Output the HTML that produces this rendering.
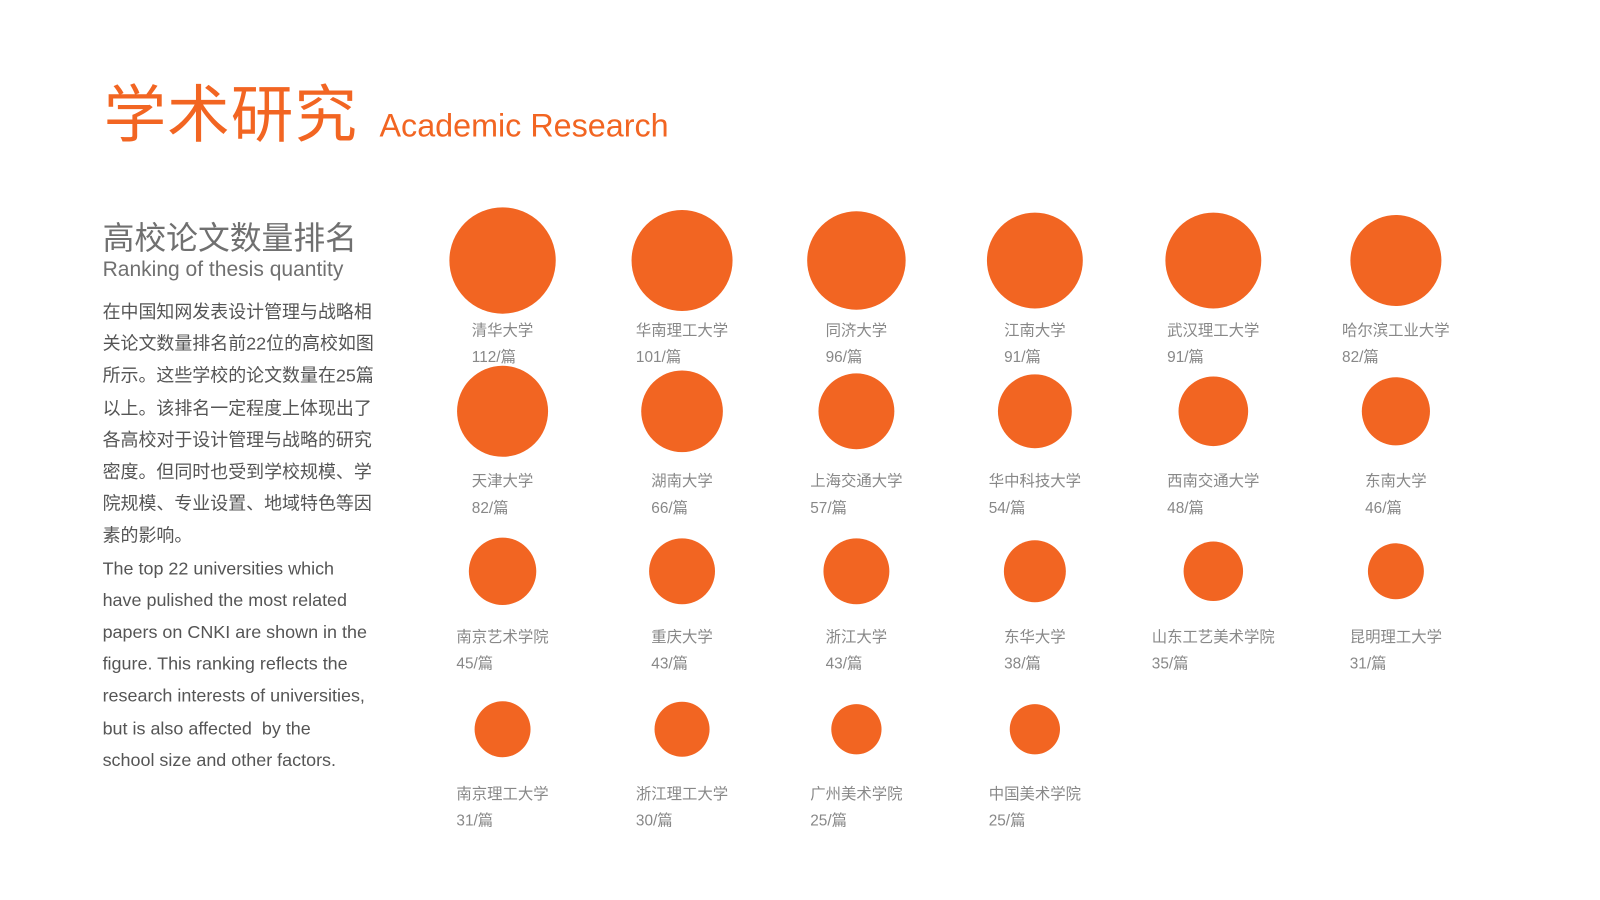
<!DOCTYPE html>
<html><head><meta charset="utf-8">
<style>
html,body{margin:0;padding:0;background:#fff;}
body{width:1600px;height:899px;position:relative;overflow:hidden;font-family:"Liberation Sans","Noto Sans CJK SC",sans-serif;}
#page{position:absolute;left:0;top:0;width:1560px;height:877px;transform:scale(1.02564);transform-origin:0 0;}
.abs{position:absolute;white-space:nowrap;}
#title{left:101px;top:72px;font-size:61px;color:#F26522;line-height:80px;letter-spacing:1px;}
#title-en{left:370px;top:102px;font-size:31.5px;color:#F26522;line-height:40px;}
#sub{left:100px;top:214px;font-size:31px;color:#707070;line-height:38px;}
#sub-en{left:100px;top:250px;font-size:20.5px;color:#707070;line-height:26px;}
#body{left:100px;top:289px;font-size:17.5px;color:#555;line-height:31.2px;}
#chart{position:absolute;left:0;top:0;}
.lbl{font-size:15px;fill:#888;font-family:"Liberation Sans","Noto Sans CJK SC",sans-serif;}
</style></head><body>
<div id="page">
<div class="abs" id="title">学术研究</div>
<div class="abs" id="title-en">Academic Research</div>
<div class="abs" id="sub">高校论文数量排名</div>
<div class="abs" id="sub-en">Ranking of thesis quantity</div>
<div class="abs" id="body">在中国知网发表设计管理与战略相<br>关论文数量排名前22位的高校如图<br>所示。这些学校的论文数量在25篇<br>以上。该排名一定程度上体现出了<br>各高校对于设计管理与战略的研究<br>密度。但同时也受到学校规模、学<br>院规模、专业设置、地域特色等因<br>素的影响。<br>The top 22 universities which<br>have pulished the most related<br>papers on CNKI are shown in the<br>figure. This ranking reflects the<br>research interests of universities,<br>but is also affected &nbsp;by the<br>school size and other factors.</div>
<svg id="chart" width="1560" height="877"></svg>
</div>
<script>
const names=["清华大学","华南理工大学","同济大学","江南大学","武汉理工大学","哈尔滨工业大学","天津大学","湖南大学","上海交通大学","华中科技大学","西南交通大学","东南大学","南京艺术学院","重庆大学","浙江大学","东华大学","山东工艺美术学院","昆明理工大学","南京理工大学","浙江理工大学","广州美术学院","中国美术学院"];
const values=[112,101,96,91,91,82,82,66,57,54,48,46,45,43,43,38,35,31,31,30,25,25];
const colX=[490,665,835,1009,1183,1361];
const rowY=[254,401,557,711];
const rowLabelOff=[67,67,63,62];
const NS="http://www.w3.org/2000/svg";
const svg=document.getElementById('chart');
function rScale(v){return 4.9*Math.sqrt(v);}
values.forEach((v,i)=>{
  const c=i%6,r=Math.floor(i/6);
  const cx=colX[c],cy=rowY[r];
  const g=document.createElementNS(NS,'g');
  
  
  const circ=document.createElementNS(NS,'circle');
  circ.setAttribute('cx',cx);circ.setAttribute('cy',cy);circ.setAttribute('r',rScale(v));
  circ.setAttribute('fill','#F26522');
  
  
  g.appendChild(circ);
  const w=names[i].length*15;
  const x0=cx-w/2;
  const t1=document.createElementNS(NS,'text');
  t1.setAttribute('x',x0);t1.setAttribute('y',cy+rowLabelOff[r]+6);
  t1.setAttribute('class','lbl');t1.textContent=names[i];
  
  
  g.appendChild(t1);
  const t2=document.createElementNS(NS,'text');
  t2.setAttribute('x',x0);t2.setAttribute('y',cy+rowLabelOff[r]+32);
  t2.setAttribute('class','lbl');t2.textContent=v+'/篇';
  
  
  g.appendChild(t2);
  svg.appendChild(g);
});
</script>
</body></html>
